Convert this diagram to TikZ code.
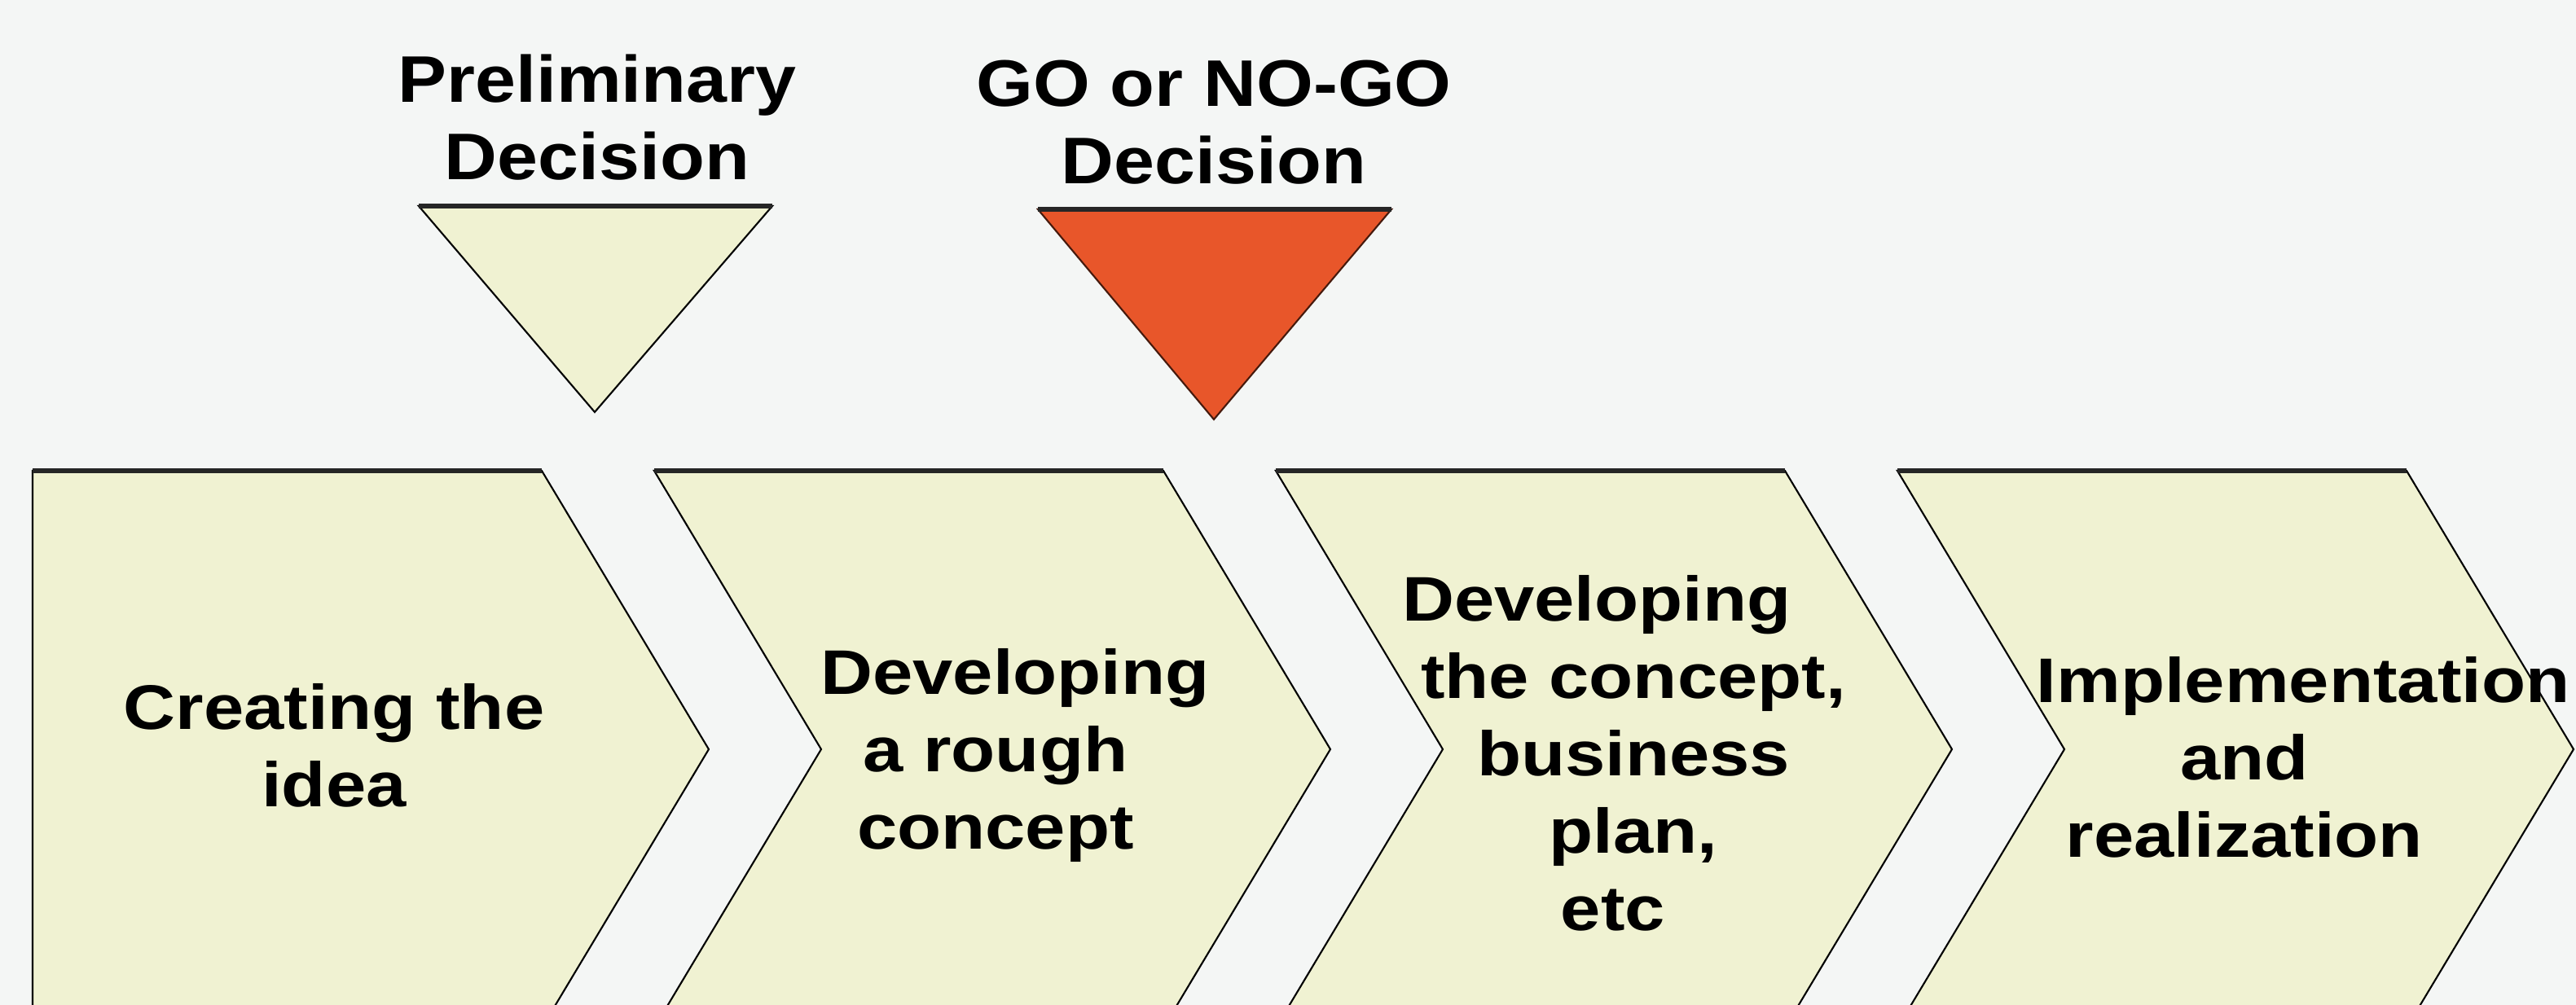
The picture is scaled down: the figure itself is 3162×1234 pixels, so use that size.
\documentclass[tikz,border=0pt]{standalone}
\usepackage{fontspec}
\newfontfamily\headfont{Liberation Sans}[FakeStretch=1.11]
\newfontfamily\phasefont{Liberation Sans}[FakeStretch=1.145]
\definecolor{paper}{HTML}{F4F6F5}
\definecolor{phasefill}{HTML}{F0F2D2}
\definecolor{gored}{HTML}{E8562A}
% struts that fix the top of the first line and the bottom of the last one
\newcommand{\hitop}{\rule{0pt}{0.8em}}
\begin{document}
\begin{tikzpicture}[x=0.01cm,y=-0.01cm,
  phase/.style={fill=phasefill,draw=black,line width=0.6pt,line join=miter},
  topedge/.style={draw=black!85,line width=1.5pt},
  gate/.style={draw=black,line width=0.6pt},
  headlabel/.style={font=\headfont\fontsize{23}{27}\selectfont\bfseries,
    align=center,text=black,inner sep=0pt,anchor=north},
  steplabel/.style={font=\phasefont\fontsize{22}{27}\selectfont\bfseries,
    align=center,text=black,inner sep=0pt,anchor=north}]
  \useasboundingbox (0,0) rectangle (3162,1234);
  \fill[paper] (0,0) rectangle (3162,1234);
  \clip (0,0) rectangle (3162,1234);

  % process chevrons: top y=578, tip y=920, width 625, slant 205
  \def\T{578}\def\M{920}\def\B{1262}
  % first phase has a straight left side
  \path[phase] (40,\T) -- (665,\T) -- (870,\M) -- (665,\B) -- (40,\B) -- cycle;
  \draw[topedge] (40,\T) -- (665,\T);
  \foreach \L in {803,1566,2329}{
    \path[phase] (\L,\T) -- ({\L+625},\T) -- ({\L+830},\M) -- ({\L+625},\B)
      -- (\L,\B) -- ({\L+205},\M) -- cycle;
    \draw[topedge] (\L,\T) -- ({\L+625},\T);
  }

  % decision gates
  \path[gate,fill=phasefill] (514,253) -- (948,253) -- (730,506) -- cycle;
  \draw[topedge] (514,253) -- (948,253);
  \path[gate,fill=gored,draw=black!70!gored] (1274,257) -- (1708,257) -- (1490,515) -- cycle;
  \draw[topedge] (1274,257) -- (1708,257);

  % gate captions
  \node[headlabel] (prelim) at (733,60) {\hitop Preliminary\\Decision};
  \node[headlabel] (gonogo) at (1490,65) {\hitop GO or NO-GO\\Decision};

  % phase captions
  \node[steplabel] (idea) at (410,833) {\hitop Creating the\\idea};
  \node[steplabel] (rough) at (1222,790) {\hitop\hspace*{0.48cm}Developing\\a rough\\concept};
  \node[steplabel] (concept) at (2005,700)
    {\hitop Developing\hspace*{0.9cm}\\the concept,\\business\\plan,\\etc\hspace*{0.5cm}};
  \node[steplabel] (impl) at (2755,800)
    {\hitop\hspace*{1.44cm}Implementation\\and\\realization};
\end{tikzpicture}
\end{document}
